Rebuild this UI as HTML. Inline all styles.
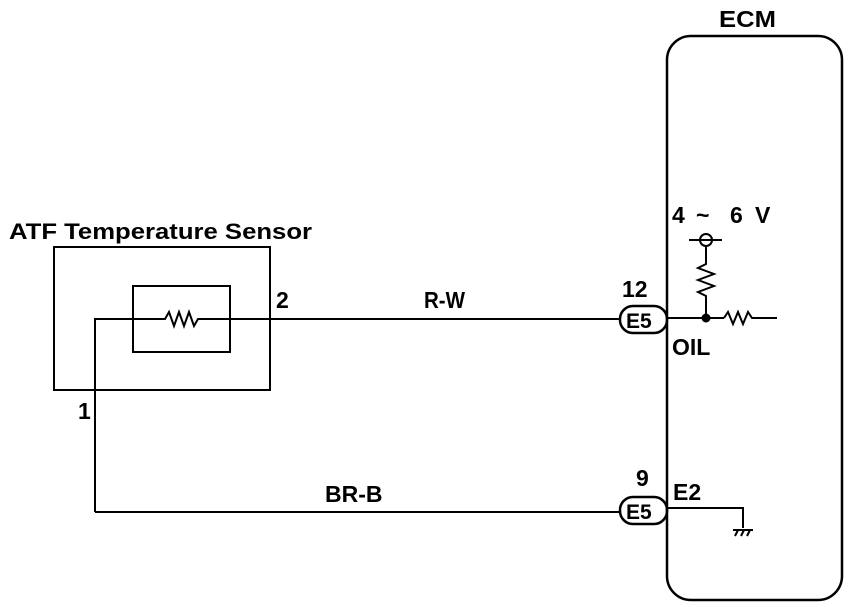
<!DOCTYPE html>
<html><head><style>body{margin:0;background:#fff}svg{display:block}</style></head><body>
<svg width="864" height="610" viewBox="0 0 864 610" xmlns="http://www.w3.org/2000/svg" font-family="Liberation Sans, sans-serif" font-weight="bold" fill="none" stroke="#000" stroke-width="2">
<rect x="54" y="247" width="216" height="143"/>
<rect x="133" y="286" width="97" height="66"/>
<polyline points="95,512 95,319 165,319 169,312 174,326 179,312 184,326 189,312 194,326 198,319 620,319"/>
<line x1="95" y1="512" x2="620" y2="512"/>
<rect x="667" y="36" width="175" height="564" rx="24" stroke-width="2.5"/>
<rect x="620" y="306" width="47" height="27" rx="13" stroke-width="2.5"/>
<rect x="620" y="497" width="47" height="27" rx="13" stroke-width="2.5"/>
<line x1="667" y1="318" x2="724" y2="318"/>
<polyline points="706,318 706,296 698,292 714,286 698,280 714,274 698,268 706,264 706,246"/>
<circle cx="706" cy="240" r="6"/>
<line x1="689" y1="240" x2="722" y2="240"/>
<circle cx="706" cy="318" r="3.5" fill="#000"/>
<polyline points="724,318 728,312 733,324 738,312 743,324 748,312 752,318 777,318"/>
<polyline points="667,508 743,508 743,528"/>
<line x1="733" y1="530" x2="753" y2="530"/>
<path d="M735 536l3-6M741 536l3-6M747 536l3-6"/>
<g fill="#000" stroke="none" font-size="23">
<text x="9" y="239" textLength="303" lengthAdjust="spacingAndGlyphs" font-size="22">ATF Temperature Sensor</text>
<text x="719" y="27" textLength="57" lengthAdjust="spacingAndGlyphs">ECM</text>
<text x="672" y="223">4</text>
<text x="696" y="223">~</text>
<text x="730" y="223">6</text>
<text x="755" y="223">V</text>
<text x="622" y="297">12</text>
<text x="626" y="328" font-size="21">E5</text>
<text x="626" y="519" font-size="21">E5</text>
<text x="636" y="486">9</text>
<text x="672" y="355">OIL</text>
<text x="673" y="500">E2</text>
<text x="276" y="308">2</text>
<text x="78" y="419">1</text>
<text x="424" y="308" textLength="41" lengthAdjust="spacingAndGlyphs">R-W</text>
<text x="325" y="502">BR-B</text>
</g>
</svg>
</body></html>
